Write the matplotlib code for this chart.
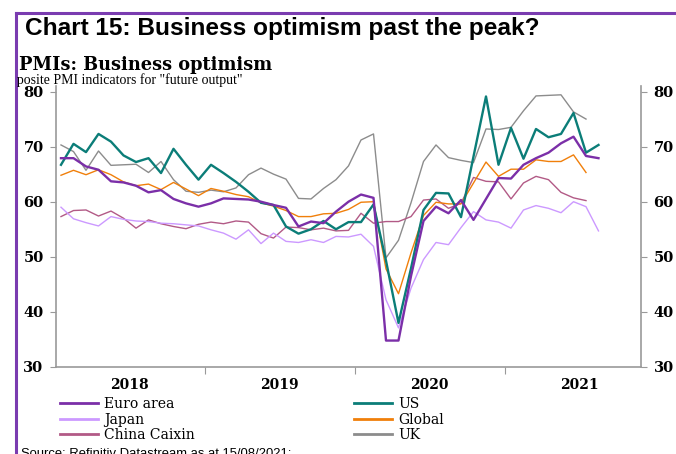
import matplotlib
matplotlib.use('Agg')
import numpy as np
import matplotlib.pyplot as plt
from matplotlib.lines import Line2D
from matplotlib.patches import Rectangle

# Composite PMI "future output" indices, monthly from Jan 2018
euro_area = [67.9, 67.9, 66.4, 65.8, 63.7, 63.5, 62.9, 61.7, 62.1, 60.5, 59.7, 59.1,
             59.7, 60.6, 60.5, 60.4, 60.0, 59.4, 58.9, 55.5, 56.4, 56.1, 58.2, 60.0,
             61.3, 60.7, 34.8, 34.8, 46.5, 56.5, 59.1, 57.9, 60.3, 56.7, 60.5, 64.3,
             64.2, 66.7, 67.9, 68.9, 70.6, 71.8, 68.3, 67.9]
us = [66.7, 70.5, 69.0, 72.3, 70.9, 68.4, 67.2, 67.9, 65.2, 69.6, 66.7, 64.0,
      66.7, 65.2, 63.6, 61.8, 59.8, 59.4, 55.5, 54.2, 55.0, 56.5, 55.0, 56.3,
      56.3, 59.5, 49.3, 38.0, 47.9, 58.5, 61.6, 61.5, 57.2, 68.2, 79.1, 66.7,
      73.4, 67.8, 73.2, 71.7, 72.3, 76.1, 68.9, 70.3]
japan = [59.0, 56.9, 56.2, 55.6, 57.3, 56.8, 56.5, 56.4, 56.1, 56.0, 55.8, 55.6,
         54.9, 54.3, 53.2, 54.9, 52.4, 54.3, 52.8, 52.6, 53.1, 52.6, 53.7, 53.6,
         54.1, 51.9, 42.2, 37.1, 44.3, 49.5, 52.6, 52.2, 55.3, 58.2, 56.7, 56.3,
         55.2, 58.5, 59.3, 58.8, 58.0, 60.0, 59.1, 54.7]
global_pmi = [64.8, 65.7, 64.9, 65.8, 64.9, 63.6, 62.9, 63.2, 62.2, 63.5, 62.3, 61.1,
              62.4, 61.9, 61.3, 60.9, 59.8, 59.2, 58.4, 57.3, 57.3, 57.8, 57.9, 58.6,
              59.9, 60.0, 47.8, 43.3, 50.7, 57.5, 59.9, 59.6, 59.6, 63.4, 67.2, 64.6,
              65.9, 65.9, 67.6, 67.3, 67.3, 68.5, 65.3]
china_caixin = [57.3, 58.4, 58.5, 57.4, 58.3, 57.0, 55.2, 56.7, 56.0, 55.5, 55.1, 55.9,
                56.3, 56.0, 56.5, 56.3, 54.2, 53.4, 55.4, 55.3, 54.9, 55.2, 54.7, 54.8,
                57.9, 56.1, 56.4, 56.4, 57.3, 60.3, 60.5, 58.8, 59.7, 64.4, 63.7, 63.6,
                60.5, 63.4, 64.6, 64.0, 61.7, 60.7, 60.2]
uk = [70.3, 69.1, 65.7, 69.2, 66.6, 66.7, 66.8, 65.3, 67.3, 64.0, 61.9, 61.7,
      62.1, 61.8, 62.5, 64.9, 66.1, 65.0, 64.1, 60.6, 60.5, 62.4, 64.0, 66.5,
      71.2, 72.3, 49.8, 53.0, 59.8, 67.3, 70.3, 68.0, 67.5, 67.1, 73.2, 73.1,
      73.5, 76.5, 79.2, 79.3, 79.4, 76.3, 75.0]

years = ['2018', '2019', '2020', '2021']
y_ticks = [30, 40, 50, 60, 70, 80]

W, H = 676, 454
plt.rcParams['font.family'] = 'DejaVu Serif'

fig = plt.figure(figsize=(W / 100, H / 100), dpi=100)


def fx(px):
    return px / W


def fy(py):
    return 1 - py / H


ax = fig.add_axes([fx(56), fy(367), fx(641) - fx(56), fy(86) - fy(367)])

lines = {}
# thin series underneath, headline series on top
for name, vals, color, lw, z in [
        ('UK', uk, '#8c8c8c', 1.0, 2),
        ('China Caixin', china_caixin, '#b25a86', 1.0, 2),
        ('Japan', japan, '#cc99ff', 1.0, 2),
        ('Global', global_pmi, '#f07f0a', 1.0, 3),
        ('US', us, '#0b7d78', 1.7, 4),
        ('Euro area', euro_area, '#7b2fa8', 1.7, 5)]:
    lines[name], = ax.plot(np.arange(len(vals)), vals, color=color, lw=lw,
                           zorder=z, label=name)

ax.set_xlim(-0.4, 46.4)
ax.set_ylim(30, 81)
ax.set_yticks(y_ticks)

for side in ['left', 'right', 'bottom']:
    ax.spines[side].set_color('#999999')
    ax.spines[side].set_linewidth(1.2)
ax.spines['top'].set_visible(False)

ax.tick_params(axis='y', left=True, right=True, labelleft=True, labelright=True,
               direction='out', length=4, color='#999999', labelsize=10.5, pad=5)
for lab in ax.get_yticklabels():
    lab.set_fontweight('bold')

ax.set_xticks([11.5, 23.5, 35.5])
ax.set_xticklabels([])
ax.set_xticks([5.5, 17.5, 29.5, 41.5], minor=True)
ax.set_xticklabels(years, minor=True, fontweight='bold', fontsize=10)
ax.tick_params(axis='x', which='major', direction='out', length=5, color='#999999')
ax.tick_params(axis='x', which='minor', length=0, pad=8)

# legend: two stacked columns
leg1 = fig.legend([lines[n] for n in ['Euro area', 'Japan', 'China Caixin']],
                  ['Euro area', 'Japan', 'China Caixin'],
                  loc='upper left', bbox_to_anchor=(fx(60), fy(397)),
                  frameon=False, fontsize=10, handlelength=2.7, handletextpad=0.5,
                  labelspacing=0.12, borderpad=0, borderaxespad=0)
leg2 = fig.legend([lines[n] for n in ['US', 'Global', 'UK']],
                  ['US', 'Global', 'UK'],
                  loc='upper left', bbox_to_anchor=(fx(354), fy(397)),
                  frameon=False, fontsize=10, handlelength=2.7, handletextpad=0.5,
                  labelspacing=0.12, borderpad=0, borderaxespad=0)
for leg in (leg1, leg2):
    for h in leg.get_lines():
        h.set_linewidth(2)

fig.text(fx(25), fy(35), 'Chart 15: Business optimism past the peak?',
         family='Liberation Sans', fontweight='bold', fontsize=17.6, va='baseline')
fig.text(fx(19), fy(70), 'PMIs: Business optimism',
         family='DejaVu Serif', fontweight='bold', fontsize=12.8, va='baseline')
note = fig.text(fx(242), fy(84), 'Composite PMI indicators for "future output"',
                family='Liberation Serif', fontsize=10, ha='right', va='baseline')
note.set_clip_path(Rectangle((fx(17), 0), 1, 1, transform=fig.transFigure))
fig.text(fx(21), fy(457), 'Source: Refinitiv Datastream as at 15/08/2021;',
         family='Liberation Sans', fontsize=9.4, va='baseline')

# purple frame on top and left
frame = '#7a3cb0'
fig.add_artist(Line2D([fx(16), fx(16)], [fy(13), 0], color=frame, lw=2.2))
fig.add_artist(Line2D([fx(16), 1], [fy(13), fy(13)], color=frame, lw=2.2))

fig.savefig('out.png', dpi=100)
